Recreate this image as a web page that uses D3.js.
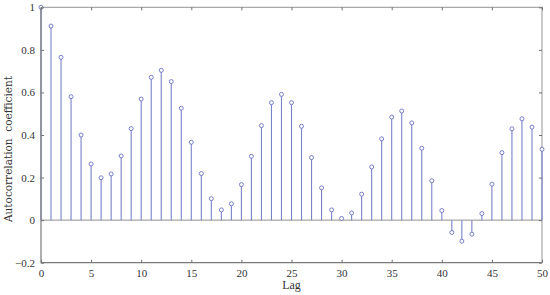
<!DOCTYPE html>
<html><head><meta charset="utf-8">
<script src="https://cdn.jsdelivr.net/npm/d3@7"></script>
<style>body{margin:0;background:#fff}svg{display:block}</style>
</head><body>
<svg id="c" width="550" height="295"></svg>
<script>
const lags = d3.range(0, 51);
const acf = [1.000,0.912,0.765,0.580,0.400,0.264,0.199,0.217,0.302,0.430,
  0.569,0.671,0.704,0.651,0.526,0.366,0.219,0.101,0.048,0.077,
  0.167,0.300,0.444,0.552,0.591,0.552,0.441,0.294,0.152,0.048,
  0.008,0.034,0.122,0.250,0.382,0.484,0.513,0.457,0.338,0.185,
  0.045,-0.058,-0.099,-0.066,0.031,0.169,0.317,0.429,0.476,0.437,0.333];
const xTicks = [0,5,10,15,20,25,30,35,40,45,50];
const yTicks = [-0.2,0,0.2,0.4,0.6,0.8,1];
const xLabel = "Lag";
const yLabel = "Autocorrelation\u00a0\u00a0coefficient";

const svg = d3.select("#c");
const L = 41, R = 542, T = 7.3, B = 262.7;
const x = d3.scaleLinear().domain([0,50]).range([L,R]);
const y = d3.scaleLinear().domain([-0.2,1]).range([B,T]);
const frameCol = "#8c8c8c", stemCol = "#7a82c8", mkCol = "#6b72c2";
const tickFont = "'Liberation Serif', serif";

// frame: top & right light
svg.append("path").attr("d",`M${L},${T}H${R}V${B}`).attr("fill","none").attr("stroke","#a8a8a8").attr("stroke-width",1.2);
// zero line
svg.append("line").attr("x1",L).attr("x2",R).attr("y1",y(0)).attr("y2",y(0)).attr("stroke","#909090").attr("stroke-width",1);

// stems
svg.append("g").selectAll("line").data(lags).join("line")
  .attr("x1",d=>x(d)).attr("x2",d=>x(d))
  .attr("y1",y(0)).attr("y2",d=>y(acf[d]))
  .attr("stroke",stemCol).attr("stroke-width",1.1);
svg.append("g").selectAll("circle").data(lags).join("circle")
  .attr("cx",d=>x(d)).attr("cy",d=>y(acf[d])).attr("r",2)
  .attr("fill","#fff").attr("stroke",mkCol).attr("stroke-width",0.9);

// axes
const xAx = d3.axisBottom(x).tickValues(xTicks).tickSize(-3).tickPadding(7).tickFormat(d3.format("d"));
const gx = svg.append("g").attr("transform",`translate(0,${B})`).call(xAx);
const yAx = d3.axisLeft(y).tickValues(yTicks).tickSize(-3).tickPadding(6)
  .tickFormat(d=> d===0?"0": d===1?"1": (d<0?"\u22120.2": d3.format(".1f")(d)));
const gy = svg.append("g").attr("transform",`translate(${L},0)`).call(yAx);
// top & right ticks
svg.append("g").call(d3.axisTop(x).tickValues(xTicks).tickSize(-3).tickFormat("")).attr("transform",`translate(0,${T})`);
svg.append("g").call(d3.axisRight(y).tickValues(yTicks).tickSize(-3).tickFormat("")).attr("transform",`translate(${R},0)`);
svg.selectAll(".domain").remove();
svg.selectAll(".tick line").attr("stroke","#707070");
[gx,gy].forEach(g=>g.selectAll("text").attr("font-family",tickFont).attr("font-size",11).attr("fill","#333"));
// left & bottom axis lines
svg.append("path").attr("d",`M${L},${T}V${B}H${R}`).attr("fill","none").attr("stroke","#7a7a7a").attr("stroke-width",1.2);

svg.append("text").attr("x",(L+R)/2).attr("y",289).attr("text-anchor","middle")
  .attr("font-family",tickFont).attr("font-size",12).attr("fill","#333").text(xLabel);
svg.append("text").attr("transform",`translate(12,${149}) rotate(-90)`).attr("text-anchor","middle")
  .attr("font-family","'DejaVu Serif', serif").attr("font-size",10.5).attr("fill","#333").text(yLabel);
</script>
</body></html>
